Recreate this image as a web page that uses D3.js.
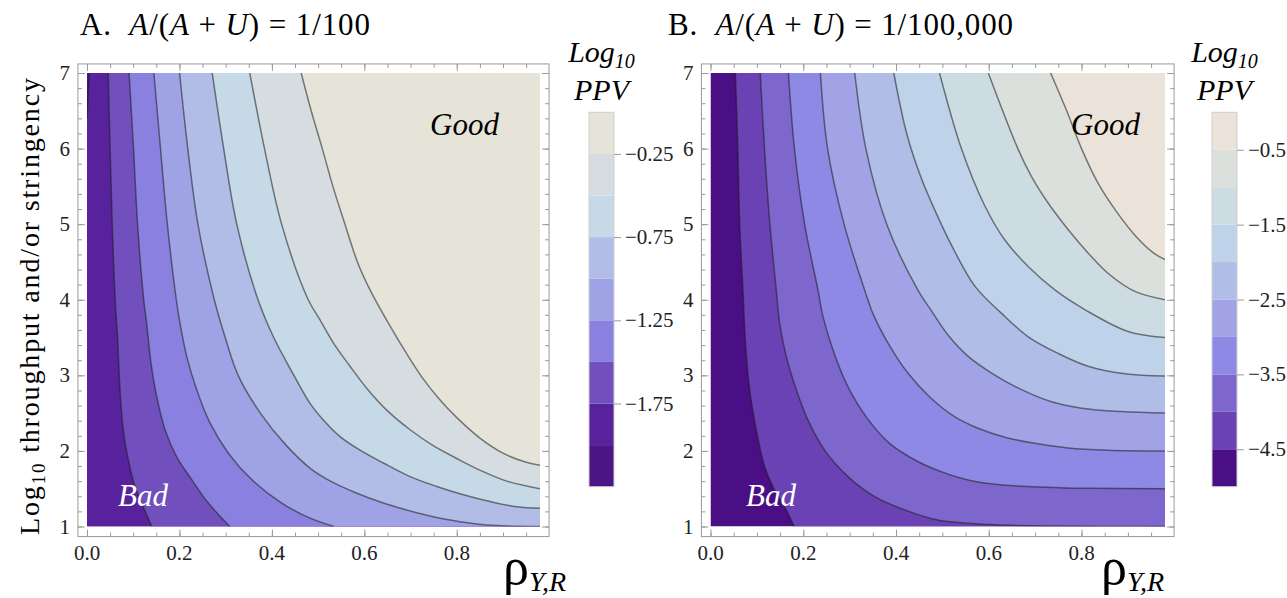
<!DOCTYPE html>
<html>
<head>
<meta charset="utf-8">
<script src="https://cdnjs.cloudflare.com/ajax/libs/d3/7.9.0/d3.min.js"></script>
<style>
  body { margin: 0; background: #fff; }
  text { font-family: "Liberation Serif", "Times New Roman", serif; }
  text.tick-label { font-size: 21px; fill: #222; }
</style>
</head>
<body>
<script>
// ---- values ----
const rhoTicks = [0, 0.2, 0.4, 0.6, 0.8]
const logTTicks = [1, 2, 3, 4, 5, 6, 7]
const rhoMax = 0.98

// panel A : prior 1/100, contour levels of log10 PPV
const levelsA = [-2.0, -1.75, -1.5, -1.25, -1.0, -0.75, -0.5, -0.25]
const colorsA = ['#4b1586', '#57229b', '#7150bd', '#8a80df', '#a0a2e6', '#b1bde6', '#c5d9e7', '#d6dde0', '#e6e4d9']
const legendTicksA = [-0.25, -0.75, -1.25, -1.75]
// each contour: [rho, log10 throughput] from top edge downwards
const contoursA = [
  [[0.005, 7], [0.002, 6.7], [0, 6.4]],
  [[0.046, 7], [0.050, 6], [0.0546, 5], [0.061, 4], [0.0664, 3.47], [0.0714, 2.81], [0.0785, 2.28], [0.0894, 1.88], [0.1039, 1.53], [0.1218, 1.26], [0.140, 1.0]],
  [[0.091, 7], [0.1006, 6], [0.1094, 5], [0.1227, 4], [0.129, 3.69], [0.1385, 3.16], [0.1508, 2.72], [0.1688, 2.28], [0.194, 1.92], [0.2265, 1.62], [0.2625, 1.31], [0.309, 1.0]],
  [[0.1447, 7], [0.159, 6], [0.1738, 5], [0.1932, 4], [0.2012, 3.69], [0.2157, 3.25], [0.2373, 2.81], [0.2661, 2.37], [0.3058, 1.97], [0.3564, 1.62], [0.4213, 1.31], [0.4825, 1.11], [0.534, 1.0]],
  [[0.2003, 7], [0.218, 6], [0.240, 5], [0.2754, 4], [0.299, 3.5], [0.327, 3.0], [0.375, 2.5], [0.43, 2.08], [0.485, 1.76], [0.53, 1.59], [0.58, 1.45], [0.641, 1.31], [0.7134, 1.183], [0.7854, 1.086], [0.865, 1.02], [0.98, 1.0]],
  [[0.2709, 7], [0.2957, 6], [0.324, 5], [0.370, 4], [0.404, 3.5], [0.4476, 3.0], [0.4825, 2.63], [0.5113, 2.41], [0.5474, 2.19], [0.5907, 2.01], [0.641, 1.84], [0.6988, 1.66], [0.7566, 1.53], [0.8143, 1.42], [0.872, 1.33], [0.9297, 1.26], [0.98, 1.24]],
  [[0.3522, 7], [0.384, 6], [0.421, 5], [0.4786, 4], [0.5041, 3.735], [0.5329, 3.43], [0.569, 3.12], [0.605, 2.83], [0.6484, 2.54], [0.699, 2.28], [0.749, 2.07], [0.800, 1.90], [0.850, 1.745], [0.908, 1.60], [0.98, 1.50]],
  [[0.4634, 7], [0.485, 6.5], [0.509, 6], [0.532, 5.5], [0.558, 5], [0.585, 4.5], [0.6123, 4.13], [0.652, 3.69], [0.6952, 3.25], [0.7242, 2.98], [0.76, 2.70], [0.80, 2.44], [0.85, 2.17], [0.90, 1.97], [0.95, 1.85], [0.98, 1.81]]
]

// panel B : prior 1/100,000
const levelsB = [-4.5, -4.0, -3.5, -3.0, -2.5, -2.0, -1.5, -1.0, -0.5]
const colorsB = ['#4a0e85', '#6a42b4', '#7d66cc', '#8f89e6', '#a1a3e6', '#b0bde7', '#bed3ea', '#cddbe3', '#dce0dd', '#ebe3d9']
const legendTicksB = [-0.5, -1.5, -2.5, -3.5, -4.5]
const contoursB = [
  [[0.0537, 7], [0.059, 6], [0.063, 5], [0.070, 4.13], [0.075, 3.47], [0.0845, 2.81], [0.0987, 2.28], [0.1168, 1.79], [0.1384, 1.48], [0.1634, 1.22], [0.180, 1.0]],
  [[0.1073, 7], [0.1164, 6], [0.128, 5], [0.1418, 4.13], [0.149, 3.69], [0.1634, 3.25], [0.185, 2.81], [0.210, 2.41], [0.246, 2.01], [0.2963, 1.66], [0.354, 1.395], [0.4185, 1.22], [0.490, 1.086], [0.60, 1.025], [0.75, 1.005], [0.98, 1.0]],
  [[0.168, 7], [0.181, 6], [0.203, 5], [0.2317, 4.13], [0.2425, 3.78], [0.264, 3.34], [0.2963, 2.85], [0.3358, 2.45], [0.386, 2.10], [0.447, 1.86], [0.50, 1.72], [0.56, 1.61], [0.63, 1.55], [0.72, 1.52], [0.82, 1.505], [0.98, 1.5]],
  [[0.237, 7], [0.2524, 6], [0.288, 5], [0.3323, 4.13], [0.350, 3.82], [0.3825, 3.43], [0.4256, 3.03], [0.475, 2.70], [0.527, 2.45], [0.577, 2.30], [0.6347, 2.18], [0.6994, 2.10], [0.771, 2.04], [0.857, 2.01], [0.98, 2.0]],
  [[0.311, 7], [0.335, 6], [0.38, 5], [0.447, 4.13], [0.478, 3.84], [0.5125, 3.53], [0.5556, 3.25], [0.606, 3.03], [0.6707, 2.81], [0.7353, 2.65], [0.80, 2.565], [0.886, 2.52], [0.98, 2.50]],
  [[0.3953, 7], [0.423, 6.2], [0.455, 5.6], [0.49, 5.1], [0.5198, 4.72], [0.570, 4.18], [0.6276, 3.82], [0.685, 3.51], [0.7495, 3.29], [0.814, 3.12], [0.8933, 3.02], [0.98, 2.99]],
  [[0.4938, 7], [0.541, 6], [0.5916, 5.24], [0.6347, 4.79], [0.685, 4.44], [0.7425, 4.13], [0.807, 3.87], [0.9004, 3.58], [0.98, 3.5]],
  [[0.599, 7], [0.6634, 5.99], [0.6922, 5.63], [0.728, 5.28], [0.771, 4.93], [0.814, 4.62], [0.857, 4.35], [0.915, 4.11], [0.98, 4.0]],
  [[0.7334, 7], [0.768, 6.5], [0.80, 6.0], [0.835, 5.55], [0.875, 5.17], [0.92, 4.82], [0.955, 4.62], [0.98, 4.53]]
]

const svg = d3.select('body').append('svg').attr('width', 1287).attr('height', 598)

const panels = [
  { key: 'A', letter: 'A.', prior: '1/100', left: 87, right: 540, levels: levelsA, colors: colorsA, contours: contoursA,
    legendX: 589, legendLo: -2.25, legendTicks: legendTicksA, legendFmt: d3.format('.2f'), good: 430, bad: 118,
    titleX: 80, titleW: 290, rhoX: 503 },
  { key: 'B', letter: 'B.', prior: '1/100,000', left: 710.5, right: 1165, levels: levelsB, colors: colorsB, contours: contoursB,
    legendX: 1212, legendLo: -5.0, legendTicks: legendTicksB, legendFmt: d3.format('.1f'), good: 1071, bad: 746,
    titleX: 668, titleW: 345, rhoX: 1101 }
]

const plotTop = 73, plotBottom = 526.5

panels.forEach(p => {
  const x = d3.scaleLinear([0, rhoMax], [p.left, p.right])
  const y = d3.scaleLinear([1, 7], [plotBottom, plotTop])
  const g = svg.append('g')

  const clipId = 'clip' + p.key
  svg.append('clipPath').attr('id', clipId).append('rect')
    .attr('x', p.left).attr('y', plotTop).attr('width', p.right - p.left).attr('height', plotBottom - plotTop)
  const plot = g.append('g').attr('clip-path', `url(#${clipId})`)

  plot.append('rect')
    .attr('x', p.left).attr('y', plotTop).attr('width', p.right - p.left).attr('height', plotBottom - plotTop)
    .attr('fill', p.colors[0])

  const line = d3.line().x(d => x(d[0])).y(d => y(d[1])).curve(d3.curveCatmullRom.alpha(0.5))

  // fill the high side of each contour, lowest level first
  p.contours.forEach((c, i) => {
    const edge = []
    const last = c[c.length - 1]
    if (last[0] <= 0) edge.push([0, 1])
    const lx = edge.length ? 0 : last[0]
    if (lx < rhoMax - 1e-6) edge.push([rhoMax, 1])
    edge.push([rhoMax, 7])
    const d = line(c) + edge.map(e => `L${x(e[0])},${y(e[1])}`).join('') + 'Z'
    plot.append('path').attr('d', d).attr('fill', p.colors[i + 1])
  })
  p.contours.forEach(c => {
    plot.append('path').attr('d', line(c))
      .attr('fill', 'none').attr('stroke', '#1c1c1c').attr('stroke-opacity', 0.55).attr('stroke-width', 1.5)
  })

  // frame with padding
  const padX = 0.02 * (p.right - p.left), padY = 0.02 * (plotBottom - plotTop)
  const fx0 = p.left - padX, fx1 = p.right + padX, fy0 = plotTop - padY, fy1 = plotBottom + padY + 1
  const minorX = d3.range(0, 1.0, 0.05).filter(v => x(v) < fx1 - 1)
  const minorY = d3.range(1, 7.01, 0.2)

  const styleAxis = a => {
    a.select('.domain').remove()
    a.selectAll('line').attr('stroke', '#9a9a9a')
  }
  const frameTicks = [
    [d3.axisBottom(x), fy1, rhoTicks, minorX, 'x'],
    [d3.axisTop(x), fy0, rhoTicks, minorX, 'x'],
    [d3.axisLeft(y), fx0, logTTicks, minorY, 'y'],
    [d3.axisRight(y), fx1, logTTicks, minorY, 'y']
  ]
  frameTicks.forEach(([ax, pos, major, minor, dim]) => {
    const tr = dim === 'x' ? `translate(0,${pos})` : `translate(${pos},0)`
    g.append('g').attr('transform', tr).call(ax.tickValues(major).tickSize(-7).tickFormat('')).call(styleAxis)
    g.append('g').attr('transform', tr).call(ax.tickValues(minor).tickSize(-4).tickFormat('')).call(styleAxis)
  })
  g.append('rect').attr('x', fx0).attr('y', fy0).attr('width', fx1 - fx0).attr('height', fy1 - fy0)
    .attr('fill', 'none').attr('stroke', '#9a9a9a').attr('stroke-width', 1)

  // tick labels
  const fmtX = d3.format('.1f')
  g.selectAll('text.xl').data(rhoTicks).join('text').attr('class', 'tick-label xl')
    .attr('x', d => x(d)).attr('y', fy1 + 23).attr('text-anchor', 'middle').text(fmtX)
  g.selectAll('text.yl').data(logTTicks).join('text').attr('class', 'tick-label yl')
    .attr('x', fx0 - 8).attr('y', d => y(d) + 7).attr('text-anchor', 'end').text(d => d)

  // Good / Bad
  g.append('text').attr('x', p.good).attr('y', 135).attr('font-style', 'italic').attr('font-size', 31)
    .attr('fill', '#000').text('Good')
  g.append('text').attr('x', p.bad).attr('y', 506).attr('font-style', 'italic').attr('font-size', 31)
    .attr('fill', '#fff').text('Bad')

  // title
  const t = g.append('text').attr('x', p.titleX).attr('y', 35).attr('font-size', 31).attr('fill', '#000')
    .attr('textLength', p.titleW).attr('lengthAdjust', 'spacing')
  t.append('tspan').text(p.letter + '\u00a0 ')
  t.append('tspan').attr('font-style', 'italic').text('A')
  t.append('tspan').text('/(')
  t.append('tspan').attr('font-style', 'italic').text('A')
  t.append('tspan').text(' + ')
  t.append('tspan').attr('font-style', 'italic').text('U')
  t.append('tspan').text(') = ' + p.prior)

  // x label
  const xl = g.append('text').attr('x', p.rhoX).attr('y', 584).attr('fill', '#000')
  xl.append('tspan').attr('font-size', 52).text('\u03c1')
  xl.append('tspan').attr('font-size', 28).attr('font-style', 'italic').attr('dy', 7).text('Y,R')

  // legend
  const legTop = 112.3, legBottom = 486.7, legW = 25
  const ly = d3.scaleLinear([p.legendLo, 0], [legBottom, legTop])
  const edges = [p.legendLo, ...p.levels, 0]
  const leg = g.append('g')
  leg.selectAll('rect.band').data(p.colors).join('rect').attr('class', 'band')
    .attr('x', p.legendX).attr('width', legW)
    .attr('y', (c, i) => ly(edges[i + 1])).attr('height', (c, i) => ly(edges[i]) - ly(edges[i + 1]))
    .attr('fill', c => c)
  leg.append('rect').attr('x', p.legendX).attr('y', legTop).attr('width', legW).attr('height', legBottom - legTop)
    .attr('fill', 'none').attr('stroke', '#cfcfcf').attr('stroke-width', 1)
  leg.append('g').attr('transform', `translate(${p.legendX + legW},0)`)
    .call(d3.axisRight(ly).tickValues(p.legendTicks).tickSize(7).tickFormat('')).call(styleAxis)
  leg.selectAll('text.ll').data(p.legendTicks).join('text').attr('class', 'tick-label ll')
    .attr('x', p.legendX + legW + 11).attr('y', d => ly(d) + 7).text(p.legendFmt)

  const cx = p.legendX + legW / 2
  const lt = g.append('text').attr('x', cx).attr('y', 62).attr('text-anchor', 'middle')
    .attr('font-style', 'italic').attr('font-size', 30).attr('fill', '#000')
  lt.append('tspan').text('Log')
  lt.append('tspan').attr('font-size', 20).attr('dy', 6).text('10')
  g.append('text').attr('x', cx).attr('y', 100).attr('text-anchor', 'middle')
    .attr('font-style', 'italic').attr('font-size', 30).attr('fill', '#000').text('PPV')
})

// y label (left panel)
const yl = svg.append('text').attr('transform', 'translate(39,535) rotate(-90)')
  .attr('font-size', 28).attr('fill', '#000').attr('textLength', 457).attr('lengthAdjust', 'spacing')
yl.append('tspan').text('Log')
yl.append('tspan').attr('font-size', 19).attr('dy', 6).text('10')
yl.append('tspan').attr('dy', -6).text(' throughput and/or stringency')
</script>
</body>
</html>
